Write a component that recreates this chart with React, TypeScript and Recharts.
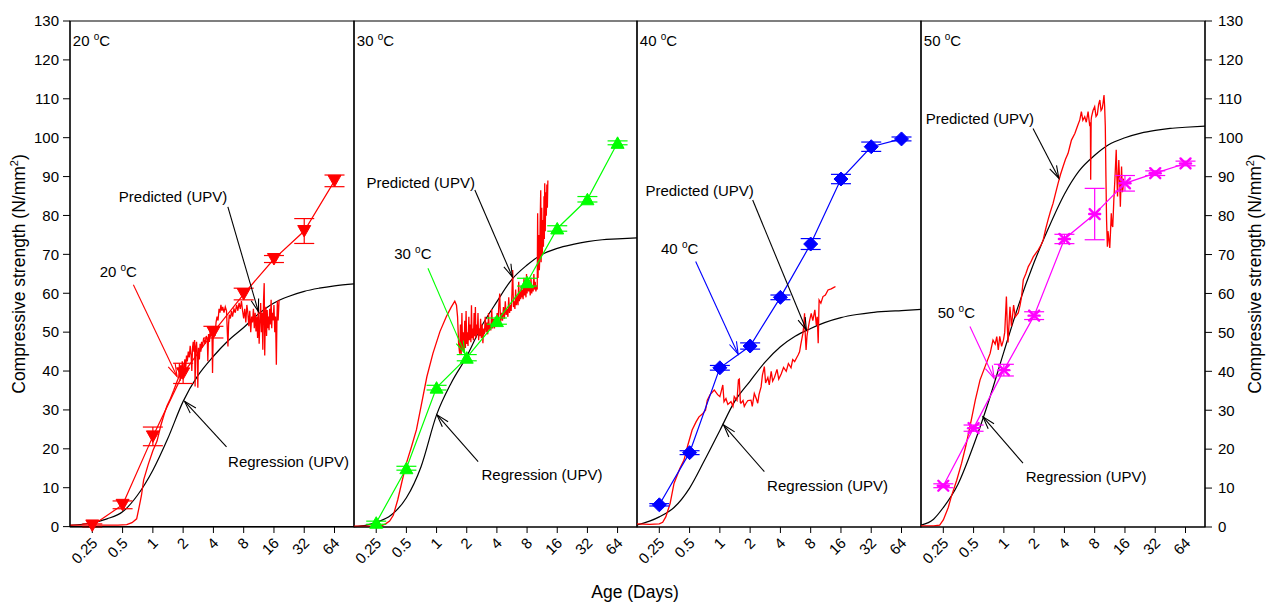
import React from 'react';
import {
  ComposedChart,
  Line,
  XAxis,
  YAxis,
  ReferenceArea,
  ReferenceLine,
  ReferenceDot,
  ErrorBar,
  Label,
} from 'recharts';

// axis ticks
const ageTicks = [0.25, 0.5, 1, 2, 4, 8, 16, 32, 64];
const strengthTicks = [0, 10, 20, 30, 40, 50, 60, 70, 80, 90, 100, 110, 120, 130];

// measured cube strengths (mean and error)
const testAges = [0.25, 0.5, 1, 2, 4, 8, 16, 32, 64];
const str20 = [0.3, 5.6, 23.2, 39.4, 50.0, 59.8, 68.8, 76.0, 88.9];
const err20 = [0.4, 1.0, 2.4, 2.6, 1.5, 1.5, 0.9, 3.2, 1.5];
const str30 = [1.1, 15.1, 35.8, 43.5, 52.9, 62.9, 76.7, 84.2, 98.7];
const err30 = [0.4, 0.5, 0.6, 0.8, 0.8, 1.0, 0.7, 0.7, 0.5];
const str40 = [5.7, 19.1, 40.9, 46.5, 59.0, 72.7, 89.4, 97.7, 99.7];
const err40 = [0.3, 0.5, 0.6, 0.8, 0.6, 1.4, 1.2, 1.2, 0.5];
const str50 = [10.6, 25.4, 40.3, 54.3, 74.0, 80.4, 88.3, 90.9, 93.4];
const err50 = [0.5, 0.8, 1.5, 1.0, 1.2, 6.6, 2.0, 0.6, 0.6];

// regression (UPV) curves
const regAges = [0.15, 0.2, 0.25, 0.35, 0.5, 0.7, 1, 1.4, 2, 2.8, 4, 5.6, 8, 11, 16, 23, 32, 45, 64, 100];
const reg20 = [0.3, 0.6, 1.0, 2.0, 3.8, 8.0, 14.5, 22.5, 32.2, 38.8, 43.8, 47.8, 51.2, 54.5, 57.5, 59.3, 60.5, 61.3, 61.9, 62.4];
const reg30 = [0.1, 0.5, 1.2, 3.0, 7.5, 15.5, 28.8, 37.0, 43.8, 51.5, 57.9, 63.5, 67.3, 69.9, 71.6, 72.6, 73.3, 73.8, 74.0, 74.3];
const reg40 = [0.5, 1.5, 2.6, 5.0, 10.0, 17.0, 24.8, 32.2, 37.5, 42.3, 46.3, 49.0, 51.0, 52.5, 53.8, 54.6, 55.1, 55.4, 55.6, 55.9];
const reg50 = [0.5, 2.0, 5.0, 11.0, 21.0, 32.0, 45.0, 57.0, 68.0, 77.0, 85.5, 91.5, 95.5, 98.2, 100.0, 101.2, 101.9, 102.4, 102.7, 103.0];

// predicted (UPV) records [age, strength]
const pred20: [number, number][] = [
  [0.15, 0.4], [0.3, 0.4], [0.45, 0.4], [0.55, 0.5], [0.62, 1], [0.69, 2], [0.73, 5], [0.77, 8], [0.81, 12], [0.9, 16],
  [1.0, 19.5], [1.1, 22], [1.2, 26], [1.3, 29], [1.38, 31], [1.5, 33], [1.61, 35], [1.72, 37], [1.81, 38.5], [1.84, 42],
  [1.87, 37.5], [1.9, 41.5], [1.93, 38], [1.96, 42.5], [2.0, 39], [2.04, 41], [2.08, 43], [2.12, 40.5], [2.16, 44], [2.2, 42.5],
  [2.25, 45], [2.3, 43.5], [2.35, 46.5], [2.4, 44], [2.44, 40], [2.48, 46], [2.52, 47.5], [2.56, 45], [2.6, 48], [2.63, 36],
  [2.67, 46], [2.72, 47.5], [2.76, 44], [2.8, 35.7], [2.84, 46], [2.9, 43], [2.95, 47], [3.0, 45], [3.05, 47.5], [3.1, 46],
  [3.2, 48.5], [3.3, 47], [3.4, 49], [3.48, 48], [3.52, 42.5], [3.58, 49.5], [3.65, 47.5], [3.72, 50.5], [3.8, 49], [3.87, 50.8],
  [3.92, 39.5], [3.97, 48], [4.05, 50.5], [4.15, 49], [4.25, 52.5], [4.35, 54], [4.45, 53], [4.55, 56], [4.65, 55], [4.75, 57],
  [4.85, 55.5], [4.95, 56.5], [5.1, 55], [5.25, 56.5], [5.4, 55.5], [5.5, 50], [5.58, 46.3], [5.66, 52], [5.75, 54.5], [5.9, 53.5],
  [6.05, 55.5], [6.2, 54], [6.4, 56], [6.6, 55], [6.8, 57], [7.0, 55.5], [7.2, 57.5], [7.4, 56], [7.6, 58], [7.8, 55.5],
  [8.0, 53.5], [8.2, 56], [8.4, 52.5], [8.6, 57], [8.8, 55], [9.0, 51.5], [9.2, 55.5], [9.4, 50], [9.6, 54], [9.8, 52.5],
  [10.0, 56], [10.2, 51], [10.4, 55], [10.6, 50.2], [10.8, 54], [11.0, 48.5], [11.2, 56], [11.4, 47], [11.6, 53], [11.8, 57.5],
  [12.0, 50], [12.2, 55], [12.4, 45.5], [12.6, 58], [12.8, 62.6], [12.95, 44], [13.1, 52], [13.3, 56.5], [13.5, 49], [13.7, 55.7],
  [13.9, 51], [14.1, 54], [14.3, 50.5], [14.5, 56], [14.7, 52], [15.0, 58.3], [15.2, 51], [15.4, 55], [15.7, 53], [16.0, 57],
  [16.3, 50], [16.6, 54], [16.9, 41.6], [17.1, 52], [17.3, 58], [17.6, 53], [18, 58.3],
];
const pred30: [number, number][] = [
  [0.15, 0.2], [0.22, 0.2], [0.28, 0.3], [0.31, 0.8], [0.34, 1.5], [0.37, 3], [0.41, 7], [0.45, 11.5], [0.5, 16.4], [0.56, 20.5],
  [0.63, 25], [0.7, 31], [0.8, 38.6], [0.92, 44.6], [1.08, 50.2], [1.25, 54], [1.4, 56.5], [1.52, 58], [1.58, 57], [1.62, 54],
  [1.66, 47], [1.7, 44.5], [1.73, 52], [1.76, 44.2], [1.79, 55], [1.82, 45.5], [1.85, 50], [1.88, 45], [1.91, 53], [1.94, 46],
  [1.97, 55.5], [2.0, 47], [2.03, 50], [2.06, 46.5], [2.1, 54], [2.13, 48], [2.17, 52], [2.2, 47.5], [2.23, 57], [2.26, 48.5],
  [2.3, 51], [2.33, 48], [2.37, 55], [2.41, 49], [2.44, 56.5], [2.47, 48.5], [2.51, 52], [2.55, 49.5], [2.59, 55], [2.63, 48],
  [2.67, 51], [2.71, 49], [2.75, 53.5], [2.8, 48.5], [2.85, 52], [2.9, 47.2], [2.95, 51], [3.0, 49.5], [3.06, 54], [3.12, 50],
  [3.18, 52.5], [3.24, 49.5], [3.3, 55], [3.36, 50.5], [3.42, 52], [3.48, 50.5], [3.55, 56], [3.62, 51], [3.7, 53.5], [3.78, 51],
  [3.86, 54], [3.94, 51.5], [4.02, 55], [4.1, 52], [4.18, 57], [4.27, 60], [4.35, 52.5], [4.45, 55], [4.55, 53], [4.65, 56.5],
  [4.75, 53.5], [4.85, 58], [4.95, 54.5], [5.05, 56], [5.15, 54], [5.25, 59], [5.35, 55], [5.45, 57], [5.55, 55.5], [5.65, 60],
  [5.75, 66], [5.85, 56.5], [5.95, 58], [6.05, 56], [6.15, 61], [6.25, 57], [6.4, 59.5], [6.5, 57], [6.6, 63], [6.7, 58],
  [6.8, 60.5], [6.9, 58.5], [7.0, 62], [7.1, 59], [7.2, 61], [7.3, 58.5], [7.45, 64], [7.55, 59.5], [7.7, 62], [7.8, 59],
  [7.9, 65], [8.0, 60], [8.15, 63], [8.3, 60.5], [8.45, 62.5], [8.6, 59.5], [8.75, 64], [8.9, 60], [9.05, 62], [9.2, 60.5],
  [9.35, 65], [9.5, 61], [9.65, 63], [9.8, 60.5], [9.95, 62], [10.1, 61], [10.2, 80.6], [10.3, 64], [10.45, 75], [10.6, 66],
  [10.7, 69], [10.8, 78], [10.95, 86.5], [11.05, 68], [11.2, 82], [11.35, 70], [11.5, 78.9], [11.65, 72], [11.8, 85], [11.9, 74],
  [12.0, 88.3], [12.15, 76], [12.3, 86], [12.45, 80], [12.6, 88], [12.75, 82], [12.9, 89],
];
const pred40: [number, number][] = [
  [0.15, 0.8], [0.2, 0.7], [0.25, 0.8], [0.27, 1.2], [0.29, 2.6], [0.32, 6], [0.35, 11.2], [0.4, 15], [0.44, 17.2], [0.48, 21],
  [0.53, 24.9], [0.58, 27], [0.62, 28.3], [0.67, 29], [0.72, 30], [0.75, 32.6], [0.8, 34], [0.88, 35.2], [0.95, 34], [1.0, 33.5],
  [1.03, 34.8], [1.07, 36.5], [1.1, 32.2], [1.15, 33], [1.2, 31.5], [1.29, 32.2], [1.35, 31], [1.39, 33.5], [1.48, 32.5], [1.53, 37.8],
  [1.56, 38], [1.6, 32], [1.62, 31.8], [1.7, 32.5], [1.75, 31], [1.82, 31.8], [1.9, 32.5], [2.04, 32.6], [2.1, 31], [2.2, 34.3],
  [2.3, 33], [2.38, 31.8], [2.45, 34], [2.57, 36], [2.65, 39], [2.77, 41.2], [2.85, 37], [3.0, 38.4], [3.1, 36.5], [3.24, 40],
  [3.35, 37.5], [3.49, 38.4], [3.7, 40.5], [3.85, 38], [4.07, 39.3], [4.3, 41], [4.57, 40], [4.8, 42], [5.1, 40.9], [5.3, 43],
  [5.54, 42.5], [5.8, 43.5], [6.0, 44.2], [6.2, 45], [6.35, 46.6], [6.5, 48], [6.7, 49.8], [6.85, 52], [6.95, 54.9], [7.05, 50],
  [7.2, 45.5], [7.35, 49], [7.5, 50.6], [7.8, 53], [8.1, 54.9], [8.4, 53], [8.8, 55.8], [9.1, 51.9], [9.3, 54], [9.5, 47.2],
  [9.7, 58.3], [10.1, 57.5], [10.6, 59.2], [11.2, 59.6], [11.9, 60.9], [12.8, 61.2], [13.9, 61.7], [14.1, 61.8],
];
const pred50: [number, number][] = [
  [0.15, 0.3], [0.2, 0.3], [0.23, 0.5], [0.25, 1.8], [0.28, 5], [0.3, 7.8], [0.34, 12], [0.38, 16.4], [0.42, 21], [0.46, 25.8],
  [0.52, 32.6], [0.58, 37.8], [0.65, 41.2], [0.73, 44.6], [0.78, 48], [0.82, 47], [0.85, 48.9], [0.88, 45.5], [0.91, 49], [0.95, 46.4],
  [0.99, 48], [1.02, 50], [1.06, 59.2], [1.08, 52], [1.1, 47.4], [1.15, 56.6], [1.19, 51.5], [1.25, 57], [1.3, 54], [1.39, 55],
  [1.45, 57], [1.5, 59.2], [1.56, 63.5], [1.65, 65], [1.75, 66.9], [1.85, 68], [1.96, 69.4], [2.1, 70.5], [2.2, 71.2], [2.35, 72.5],
  [2.46, 73.7], [2.6, 76.5], [2.75, 78.9], [2.9, 81], [3.09, 83.2], [3.25, 85.5], [3.46, 88.3], [3.65, 90.5], [3.88, 92.6], [4.1, 94.5],
  [4.35, 96], [4.5, 97.5], [4.7, 99.4], [5.08, 101.1], [5.4, 103], [5.69, 104.6], [5.9, 106.7], [6.1, 104.5], [6.37, 105.4], [6.6, 104],
  [6.88, 106.7], [7.0, 105], [7.15, 103], [7.25, 104], [7.3, 89.2], [7.38, 104.5], [7.44, 105.4], [7.7, 107], [8.0, 108], [8.25, 105.5],
  [8.5, 106], [8.75, 108.5], [9.0, 109.7], [9.25, 107], [9.5, 107.5], [9.7, 109], [9.9, 111], [10.05, 108], [10.2, 103], [10.35, 90],
  [10.5, 78.9], [10.7, 72], [10.85, 76], [11.0, 74.6], [11.3, 71.7], [11.5, 76], [11.7, 80.6], [11.9, 77.5], [12.1, 77.1], [12.4, 84],
  [12.7, 89.2], [13.1, 96.9], [13.3, 90], [13.5, 84.9], [13.7, 90], [13.9, 94.3], [14.2, 88], [14.4, 82.3], [14.6, 88], [14.8, 92.6],
  [15.1, 86], [15.3, 87], [15.5, 89.5],
];

const FONT = 'Arial, "Liberation Sans", sans-serif';
const X_DOMAIN: [number, number] = [0.15, 100];

type Pt = [number, number];
type Panel = {
  temp: string;
  color: string;
  marker: 'down' | 'up' | 'diamond' | 'star';
  str: number[];
  err: number[];
  reg: number[];
  pred: Pt[];
  left: number;
  width: number;
  axis: 'left' | 'right' | 'none';
  predText: Pt;
  predArrow: [Pt, Pt];
  regText: Pt;
  regArrow: [Pt, Pt];
  tempText: Pt;
  tempArrow: [Pt, Pt];
};

const panels: Panel[] = [
  {
    temp: '20', color: '#ff0000', marker: 'down', str: str20, err: err20, reg: reg20, pred: pred20,
    left: 0, width: 354, axis: 'left',
    predText: [0.459, 83.5], predArrow: [[5.57, 82.2], [11.2, 55.3]],
    regText: [5.6, 15.4], regArrow: [[5.4, 20.5], [2.07, 32.2]],
    tempText: [0.296, 64.2], tempArrow: [[0.64, 62.2], [1.74, 38.6]],
  },
  {
    temp: '30', color: '#00ff00', marker: 'up', str: str30, err: err30, reg: reg30, pred: pred30,
    left: 354, width: 283, axis: 'none',
    predText: [0.2, 87.1], predArrow: [[2.41, 86.6], [5.7, 64.3]],
    regText: [2.81, 12.1], regArrow: [[2.6, 16.8], [1.01, 28.8]],
    tempText: [0.378, 68.9], tempArrow: [[0.82, 66.5], [1.91, 44.6]],
  },
  {
    temp: '40', color: '#0000ff', marker: 'diamond', str: str40, err: err40, reg: reg40, pred: pred40,
    left: 637, width: 284, axis: 'none',
    predText: [0.182, 85], predArrow: [[2.12, 84], [7.25, 50.6]],
    regText: [2.95, 9.2], regArrow: [[2.77, 14.2], [1.09, 26.2]],
    tempText: [0.26, 70.1], tempArrow: [[0.575, 68.2], [1.52, 44.4]],
  },
  {
    temp: '50', color: '#ff00ff', marker: 'star', str: str50, err: err50, reg: reg50, pred: pred50,
    left: 921, width: 350, axis: 'right',
    predText: [0.167, 103.5], predArrow: [[1.95, 102.4], [3.52, 89.6]],
    regText: [1.65, 11.6], regArrow: [[1.55, 16.4], [0.62, 28.3]],
    tempText: [0.22, 53.7], tempArrow: [[0.46, 51.5], [0.8, 38.2]],
  },
];

function XTick(props: any) {
  const { x, y, payload } = props;
  const px = x + 6;
  const py = y + 9;
  return (
    <text x={px} y={py} textAnchor="end" fontSize={15} fill="#000" transform={`rotate(-45, ${px}, ${py})`}>
      {String(payload.value)}
    </text>
  );
}

function marker(kind: Panel['marker'], color: string) {
  return (p: any) => {
    const { cx, cy, index } = p;
    if (cx == null || cy == null) return <g key={index} />;
    if (kind === 'down')
      return <polygon key={index} points={`${cx - 6.5},${cy - 5.5} ${cx + 6.5},${cy - 5.5} ${cx},${cy + 6}`} fill={color} stroke={color} />;
    if (kind === 'up')
      return <polygon key={index} points={`${cx - 6.5},${cy + 5.5} ${cx + 6.5},${cy + 5.5} ${cx},${cy - 6}`} fill={color} stroke={color} />;
    if (kind === 'diamond')
      return <polygon key={index} points={`${cx},${cy - 7} ${cx + 7},${cy} ${cx},${cy + 7} ${cx - 7},${cy}`} fill={color} stroke={color} />;
    return (
      <g key={index} stroke={color} strokeWidth={2.4} strokeLinecap="round">
        <line x1={cx - 5} y1={cy - 5} x2={cx + 5} y2={cy + 5} />
        <line x1={cx - 5} y1={cy + 5} x2={cx + 5} y2={cy - 5} />
        <line x1={cx - 5.5} y1={cy} x2={cx + 5.5} y2={cy} />
      </g>
    );
  };
}

function arrow(color: string) {
  return (p: any) => {
    const { x1, y1, x2, y2 } = p;
    if ([x1, y1, x2, y2].some((v) => v == null || Number.isNaN(v))) return <g />;
    const a = Math.atan2(y2 - y1, x2 - x1);
    const len = 13;
    const w = 0.3;
    const ax = x2 - len * Math.cos(a - w);
    const ay = y2 - len * Math.sin(a - w);
    const bx = x2 - len * Math.cos(a + w);
    const by = y2 - len * Math.sin(a + w);
    return (
      <g stroke={color} strokeWidth={1.1} fill="none">
        <line x1={x1} y1={y1} x2={x2} y2={y2} />
        <polyline points={`${ax},${ay} ${x2},${y2} ${bx},${by}`} />
      </g>
    );
  };
}

function note(content: React.ReactNode) {
  return (p: any) => (
    <text x={p.cx} y={p.cy} fontSize={15} fill="#000" fontFamily={FONT}>
      {content}
    </text>
  );
}

function degC(t: string) {
  return (
    <>
      <tspan>{t} </tspan>
      <tspan dy={-6} fontSize={10}>o</tspan>
      <tspan dy={6}>C</tspan>
    </>
  );
}

function yTitle(offset: number) {
  return (p: any) => {
    const vb = p.viewBox || { x: 0, y: 21, width: 70, height: 506 };
    const x = vb.x + offset;
    const y = vb.y + vb.height / 2;
    return (
      <text x={x} y={y} textAnchor="middle" fontSize={17.5} fill="#000" transform={`rotate(-90, ${x}, ${y})`}>
        <tspan>Compressive strength (N/mm</tspan>
        <tspan dy={-7} fontSize={11}>2</tspan>
        <tspan dy={7}>)</tspan>
      </text>
    );
  };
}

function xTitle(p: any) {
  const vb = p.viewBox || { x: 0, y: 527, width: 283, height: 30 };
  return (
    <text x={vb.x + vb.width - 2} y={vb.y + 71} textAnchor="middle" fontSize={17.5} fill="#000">
      Age (Days)
    </text>
  );
}

function PanelChart({ cfg, index }: { cfg: Panel; index: number }) {
  const measured = testAges.map((a, i) => ({ x: a, y: cfg.str[i], e: cfg.err[i] }));
  const regression = regAges.map((a, i) => ({ x: a, y: cfg.reg[i] }));
  const predicted = cfg.pred.map(([a, v]) => ({ x: a, y: v }));
  const seg = (s: [Pt, Pt]) => [
    { x: s[0][0], y: s[0][1] },
    { x: s[1][0], y: s[1][1] },
  ];

  return (
    <div style={{ position: 'absolute', left: cfg.left, top: 0 }}>
      <ComposedChart width={cfg.width} height={605} margin={{ top: 21, right: 0, bottom: 48, left: 0 }}>
        <XAxis
          dataKey="x"
          type="number"
          scale="log"
          domain={X_DOMAIN}
          allowDataOverflow
          ticks={ageTicks}
          interval={0}
          height={30}
          tickSize={6}
          tick={<XTick />}
          stroke="#000"
        >
          {index === 1 && <Label content={xTitle} />}
        </XAxis>
        {cfg.axis === 'none' ? (
          <YAxis type="number" domain={[0, 130]} hide />
        ) : (
          <YAxis
            type="number"
            domain={[0, 130]}
            ticks={strengthTicks}
            interval={0}
            orientation={cfg.axis}
            width={cfg.axis === 'left' ? 70 : 66}
            tickSize={7}
            tickMargin={cfg.axis === 'left' ? 4 : 6}
            tick={{ fontSize: 15, fill: '#000' }}
            stroke="#000"
          >
            <Label content={yTitle(cfg.axis === 'left' ? 25 : 56)} />
          </YAxis>
        )}
        <ReferenceArea
          x1={X_DOMAIN[0]}
          x2={X_DOMAIN[1]}
          y1={0}
          y2={130}
          fill="none"
          fillOpacity={0}
          stroke="#000"
          strokeWidth={1.2}
          ifOverflow="visible"
        />
        <Line data={regression} dataKey="y" type="monotone" stroke="#000" strokeWidth={1.2} dot={false} isAnimationActive={false} />
        <Line data={predicted} dataKey="y" type="linear" stroke="#ff0000" strokeWidth={1.3} dot={false} isAnimationActive={false} />
        <Line
          data={measured}
          dataKey="y"
          type="linear"
          stroke={cfg.color}
          strokeWidth={1.2}
          dot={marker(cfg.marker, cfg.color)}
          isAnimationActive={false}
        >
          <ErrorBar dataKey="e" direction="y" width={10} stroke={cfg.color} strokeWidth={1.2} />
        </Line>
        <ReferenceLine segment={seg(cfg.predArrow)} ifOverflow="visible" shape={arrow('#000')} />
        <ReferenceLine segment={seg(cfg.regArrow)} ifOverflow="visible" shape={arrow('#000')} />
        <ReferenceLine segment={seg(cfg.tempArrow)} ifOverflow="visible" shape={arrow(cfg.color)} />
        <ReferenceDot x={cfg.predText[0]} y={cfg.predText[1]} ifOverflow="visible" shape={note('Predicted (UPV)')} />
        <ReferenceDot x={cfg.regText[0]} y={cfg.regText[1]} ifOverflow="visible" shape={note('Regression (UPV)')} />
        <ReferenceDot x={cfg.tempText[0]} y={cfg.tempText[1]} ifOverflow="visible" shape={note(degC(cfg.temp))} />
        <ReferenceDot x={0.16} y={123.6} ifOverflow="visible" shape={note(degC(cfg.temp))} />
      </ComposedChart>
    </div>
  );
}

export default function App() {
  return (
    <div
      style={{
        position: 'absolute',
        left: 0,
        top: 0,
        width: 1271,
        height: 605,
        background: '#fff',
        fontFamily: FONT,
      }}
    >
      <style>{'.recharts-surface { overflow: visible; }'}</style>
      {panels.map((cfg, i) => (
        <PanelChart key={cfg.temp} cfg={cfg} index={i} />
      ))}
    </div>
  );
}
